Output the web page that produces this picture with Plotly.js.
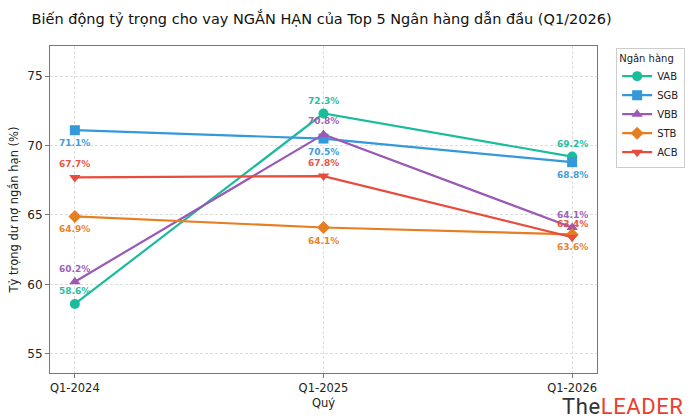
<!DOCTYPE html>
<html>
<head>
<meta charset="utf-8">
<script src="https://cdn.plot.ly/plotly-3.0.1.min.js"></script>
<style>
html,body{margin:0;padding:0;background:#fff;}
#chart{width:700px;height:420px;position:relative;}
#wm{position:absolute;left:562px;top:396px;font-family:Roboto,"Open Sans",sans-serif;font-size:22px;letter-spacing:0.6px;line-height:22px;height:22px;white-space:nowrap;}
</style>
</head>
<body>
<div id="chart"></div>
<script>
const quarters = ["Q1-2024", "Q1-2025", "Q1-2026"];
const banks = ["VAB", "SGB", "VBB", "STB", "ACB"];
const VAB = [58.6, 72.3, 69.2];
const SGB = [71.1, 70.5, 68.8];
const VBB = [60.2, 70.8, 64.1];
const STB = [64.9, 64.1, 63.6];
const ACB = [67.7, 67.8, 63.4];

const values = {VAB, SGB, VBB, STB, ACB};
const colors = {VAB: "#1abc9c", SGB: "#3498db", VBB: "#9b59b6", STB: "#e67e22", ACB: "#e74c3c"};
const symbols = {VAB: "circle", SGB: "square", VBB: "triangle-up", STB: "diamond", ACB: "triangle-down"};
// label placement: +1 above, -1 below
const place = {VAB: [1, 1, 1], SGB: [-1, -1, -1], VBB: [1, 1, 1], STB: [-1, -1, -1], ACB: [1, 1, 1]};

const traces = banks.map(b => ({
  x: [0, 1, 2],
  y: values[b],
  name: b,
  type: "scatter",
  mode: "lines+markers",
  line: {color: colors[b], width: 2.2},
  marker: {color: colors[b], symbol: symbols[b], size: 10, line: {width: 0}}
}));

const annotations = [];
banks.forEach(b => {
  values[b].forEach((v, i) => {
    annotations.push({
      x: i, y: v, xref: "x", yref: "y",
      text: v.toFixed(1) + "%",
      showarrow: false,
      yshift: place[b][i] * 13,
      font: {family: "DejaVu Sans", size: 9, color: colors[b], weight: "bold"},
      opacity: 0.95
    });
  });
});

const layout = {
  width: 700, height: 420,
  margin: {l: 50, r: 103, t: 46, b: 47},
  paper_bgcolor: "#fff", plot_bgcolor: "#fff",
  font: {family: "DejaVu Sans", size: 11, color: "#222"},
  title: {text: "Biến động tỷ trọng cho vay NGẮN HẠN của Top 5 Ngân hàng dẫn đầu (Q1/2026)",
          x: 0.045, xanchor: "left", y: 0.955, yanchor: "middle",
          font: {family: "DejaVu Sans", size: 14.5, color: "#111"}},
  xaxis: {
    range: [-0.1, 2.1],
    tickvals: [0, 1, 2], ticktext: quarters,
    tickfont: {size: 11.5},
    showgrid: true, gridcolor: "#dddddd", griddash: "3px,2px", gridwidth: 1,
    zeroline: false,
    showline: true, mirror: true, linecolor: "#777", linewidth: 1,
    ticks: "outside", ticklen: 4, tickcolor: "#777",
    title: {text: "Quý", font: {size: 11.5}, standoff: 5}
  },
  yaxis: {
    range: [53.63, 77.16],
    tickvals: [55, 60, 65, 70, 75],
    tickfont: {size: 12},
    showgrid: true, gridcolor: "#dddddd", griddash: "3px,2px", gridwidth: 1,
    zeroline: false,
    showline: true, mirror: true, linecolor: "#777", linewidth: 1,
    ticks: "outside", ticklen: 4, tickcolor: "#777",
    title: {text: "Tỷ trọng dư nợ ngắn hạn (%)", font: {size: 11.5}, standoff: 6}
  },
  legend: {
    x: 1.035, xanchor: "left", y: 0.995, yanchor: "top",
    bordercolor: "#cccccc", borderwidth: 1, bgcolor: "#fff",
    title: {text: "Ngân hàng", font: {size: 10}},
    font: {size: 10}, itemwidth: 30, tracegroupgap: 0
  },
  annotations: annotations,
  showlegend: true
};

Plotly.newPlot("chart", traces, layout, {displayModeBar: false, staticPlot: true});
</script>
<div id="wm"><span style="color:#333;">The</span><span style="color:#e8412f;">LEADER</span></div>
</body>
</html>
